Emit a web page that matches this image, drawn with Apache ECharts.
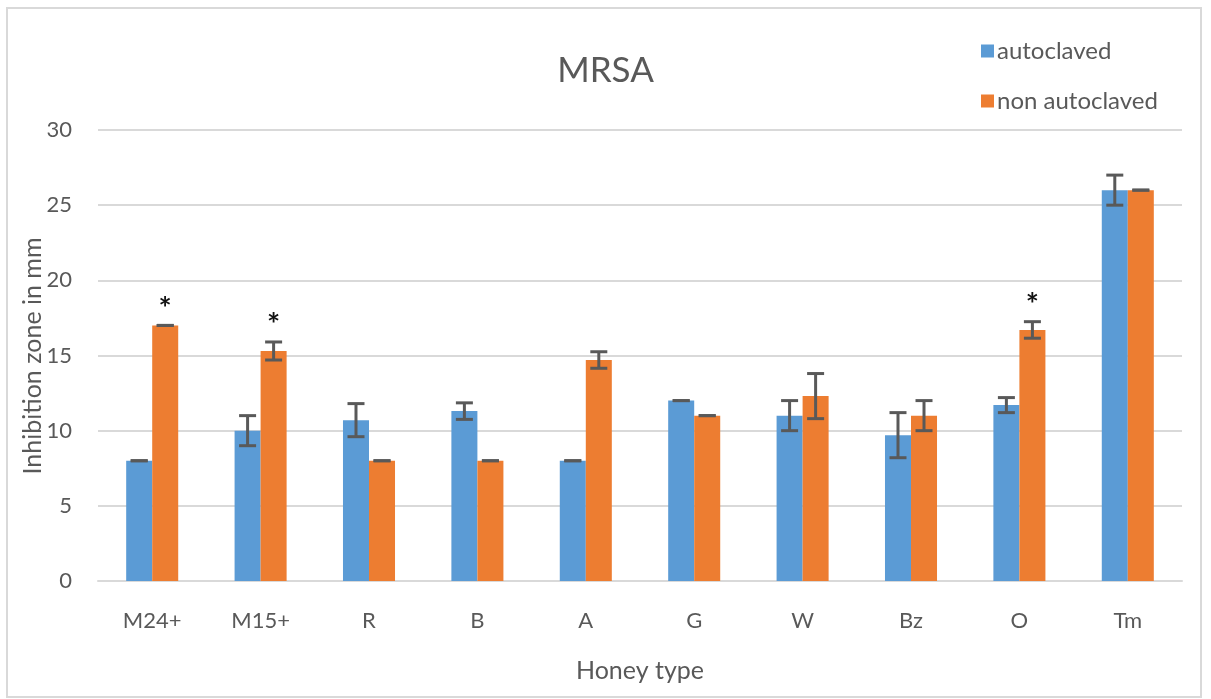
<!DOCTYPE html>
<html>
<head>
<meta charset="utf-8">
<script src="https://cdn.jsdelivr.net/npm/echarts@6/dist/echarts.min.js"></script>
<style>
  html, body { margin: 0; padding: 0; background: #fff; }
  #main { width: 1211px; height: 699px; }
</style>
</head>
<body>
<div id="main"></div>
<script>
var categories = ['M24+', 'M15+', 'R', 'B', 'A', 'G', 'W', 'Bz', 'O', 'Tm'];
var autoclaved = [8, 10, 10.7, 11.3, 8, 12, 11, 9.7, 11.7, 26];
var autoclavedErr = [0, 1, 1.1, 0.55, 0, 0, 1, 1.5, 0.5, 1];
var nonAutoclaved = [17, 15.3, 8, 8, 14.7, 11, 12.3, 11, 16.7, 26];
var nonAutoclavedErr = [0, 0.6, 0, 0, 0.55, 0, 1.5, 1, 0.55, 0];
var significant = [1, 1, 0, 0, 0, 0, 0, 0, 1, 0]; // '*' over non autoclaved

var textColor = '#595959';
var font = 'Lato, "Open Sans", sans-serif';

// error bar data: [categoryIndex, value, err, star]
function errData(vals, errs, stars) {
  return vals.map(function (v, i) {
    return [i, v, errs[i], stars ? stars[i] : 0];
  });
}

// draws cap-bar-cap over one series, shifted by side (-1 left bar, +1 right bar)
function errRenderer(side) {
  return function (params, api) {
    var idx = api.value(0), val = api.value(1), err = api.value(2), star = api.value(3);
    var band = api.size([1, 0])[0];
    var x = api.coord([idx, val])[0] + side * band * 0.12;
    var top = api.coord([idx, val + err])[1];
    var bot = api.coord([idx, val - err])[1];
    var half = 8.5;
    var st = { stroke: '#595959', lineWidth: 3 };
    var kids = [
      { type: 'line', shape: { x1: x, y1: top, x2: x, y2: bot }, style: st },
      { type: 'line', shape: { x1: x - half, y1: top, x2: x + half, y2: top }, style: st },
      { type: 'line', shape: { x1: x - half, y1: bot, x2: x + half, y2: bot }, style: st }
    ];
    if (star) {
      kids.push({
        type: 'text',
        style: {
          text: '*', x: x, y: top - 1, align: 'center', verticalAlign: 'bottom',
          fill: '#111', font: 'bold 31px ' + font
        }
      });
    }
    return { type: 'group', children: kids };
  };
}

var chart = echarts.init(document.getElementById('main'));
chart.setOption({
  animation: false,
  backgroundColor: '#fff',
  graphic: [{
    type: 'rect',
    shape: { x: 7, y: 8, width: 1194, height: 689 },
    style: { fill: 'none', stroke: '#d9d9d9', lineWidth: 2 },
    silent: true
  }, {
    // y axis title, placed by hand so it can sit close to the tick labels
    type: 'text',
    x: 33,
    y: 356,
    rotation: Math.PI / 2,
    style: {
      text: 'Inhibition zone in mm', align: 'center', verticalAlign: 'middle',
      fill: textColor, font: '25px ' + font
    },
    silent: true
  }],
  title: {
    text: 'MRSA',
    left: 'center',
    top: 48,
    textStyle: { color: textColor, fontSize: 35, fontWeight: 'normal', fontFamily: font }
  },
  legend: {
    orient: 'vertical',
    left: 976,
    top: 34,
    itemWidth: 13,
    itemHeight: 13,
    itemGap: 26,
    icon: 'rect',
    data: ['autoclaved', 'non autoclaved'],
    textStyle: { color: textColor, fontSize: 24, fontFamily: font, padding: [0, 0, 0, -2] }
  },
  grid: { left: 98, right: 29, top: 130, bottom: 118, outerBoundsMode: 'none' },
  xAxis: {
    type: 'category',
    data: categories,
    name: 'Honey type',
    nameLocation: 'middle',
    nameGap: 77,
    nameTextStyle: { color: textColor, fontSize: 25, fontFamily: font },
    axisTick: { show: false },
    axisLine: { lineStyle: { color: '#d9d9d9', width: 2 } },
    axisLabel: { color: textColor, fontSize: 22, fontFamily: font, margin: 29 }
  },
  yAxis: {
    type: 'value',
    min: 0,
    max: 30,
    interval: 5,
    axisLine: { show: false },
    axisTick: { show: false },
    splitLine: { lineStyle: { color: '#d9d9d9', width: 2 } },
    axisLabel: { color: textColor, fontSize: 22, fontFamily: font, margin: 26 }
  },
  series: [
    {
      name: 'autoclaved',
      type: 'bar',
      data: autoclaved,
      barWidth: '24%',
      barGap: '0%',
      itemStyle: { color: '#5b9bd5' }
    },
    {
      name: 'non autoclaved',
      type: 'bar',
      data: nonAutoclaved,
      barWidth: '24%',
      barGap: '0%',
      itemStyle: { color: '#ed7d31' }
    },
    {
      type: 'custom',
      renderItem: errRenderer(-1),
      data: errData(autoclaved, autoclavedErr),
      z: 10,
      silent: true
    },
    {
      type: 'custom',
      renderItem: errRenderer(1),
      data: errData(nonAutoclaved, nonAutoclavedErr, significant),
      z: 10,
      silent: true
    }
  ]
});
</script>
</body>
</html>
